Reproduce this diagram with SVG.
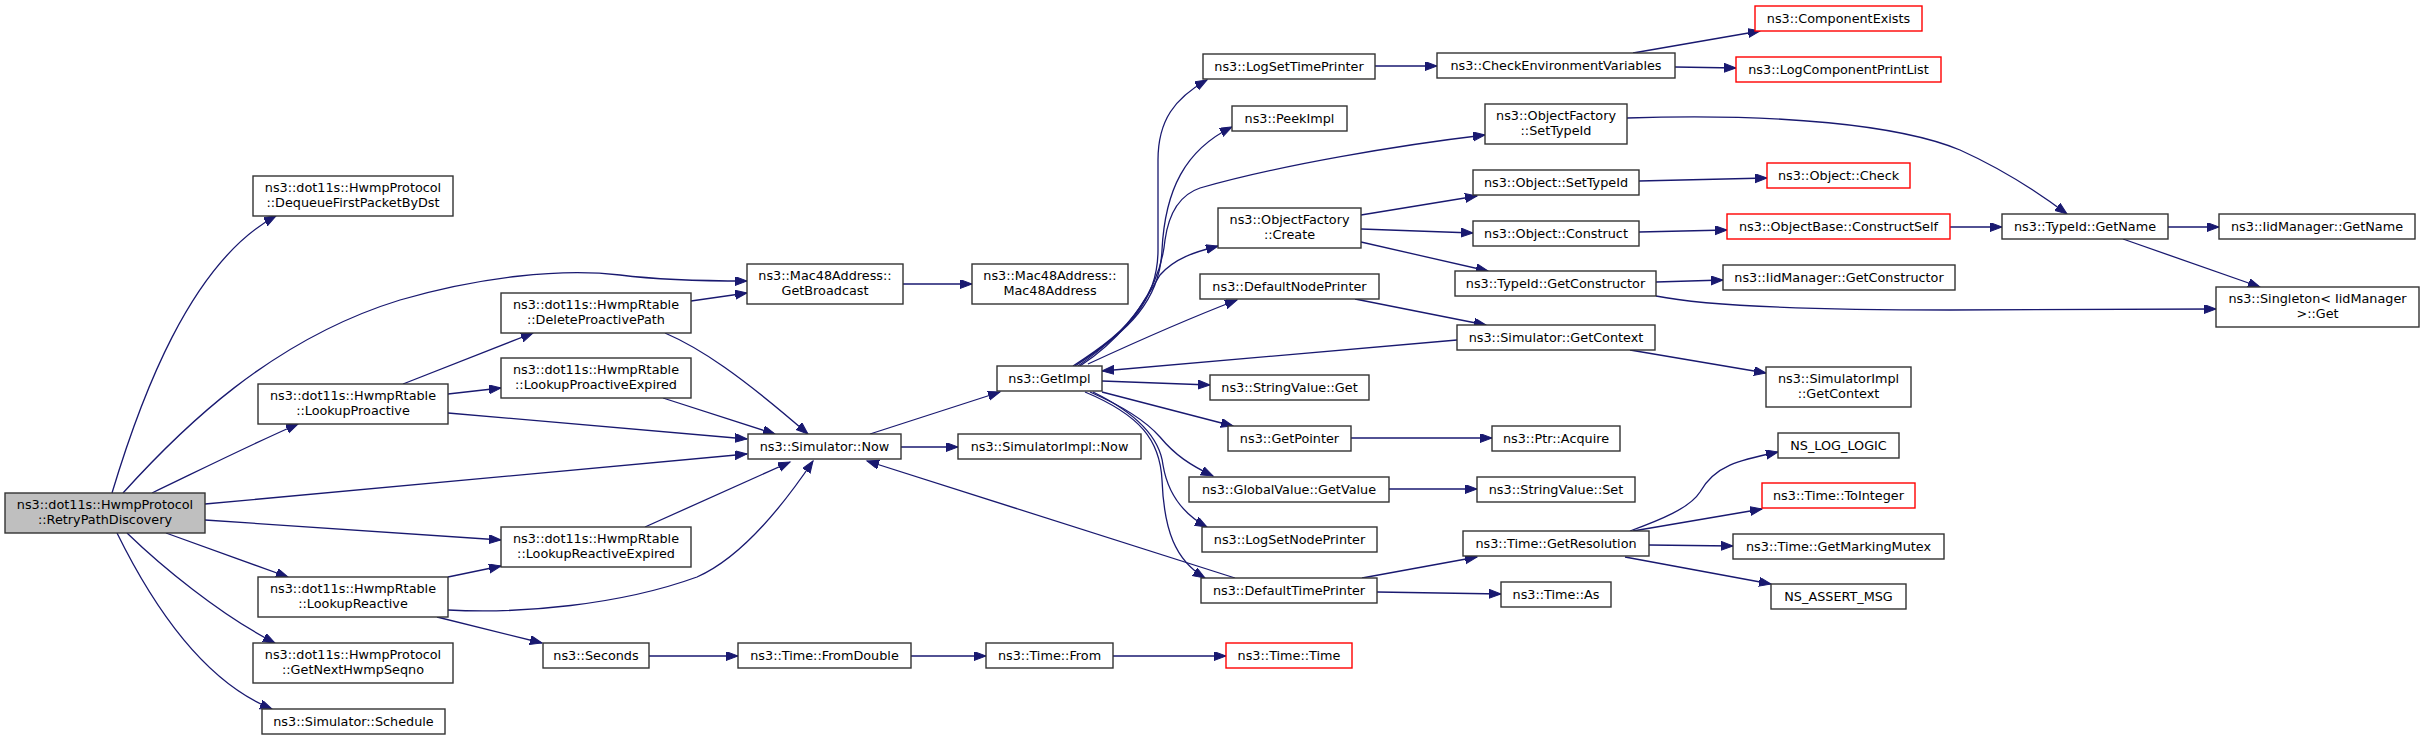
<svg xmlns="http://www.w3.org/2000/svg" width="2424" height="740" viewBox="0 0 2424 740">
<style>
rect{fill:#fff;stroke:#333;stroke-width:1.4}
rect.red{stroke:#ff0000}
rect.main{fill:#bfbfbf}
text{font-family:"DejaVu Sans","Liberation Sans",sans-serif;font-size:12.8px;fill:#000;text-anchor:middle}
#edges path{fill:none;stroke:#191970;stroke-width:1.3;marker-end:url(#a)}
</style>
<defs>
<marker id="a" markerWidth="14" markerHeight="11" refX="12" refY="4.5" orient="auto" markerUnits="userSpaceOnUse"><path d="M0,0 L12,4.5 L0,9 z" fill="#191970" stroke="#191970" stroke-width="1"/></marker>
</defs>
<rect x="0" y="0" width="2424" height="740" style="fill:#fff;stroke:none"/>
<g id="edges">
<path d="M112,493 C140,400 190,262 276,216"/>
<path d="M123,493 C180,430 270,340 400,300 C480,277 560,268 620,275 C660,280 700,281 747,281"/>
<path d="M152,493 C200,470 250,445 298,424"/>
<path d="M205,504 L747,454"/>
<path d="M205,520 L501,540"/>
<path d="M166,533 L288,577"/>
<path d="M127,533 C160,565 220,615 275,643"/>
<path d="M117,533 C150,600 200,680 272,709"/>
<path d="M403,384 L533,333"/>
<path d="M448,394 L501,388"/>
<path d="M448,413 L747,439"/>
<path d="M448,577 L501,566"/>
<path d="M448,610 C520,614 620,605 697,577 C740,558 780,510 813,461"/>
<path d="M437,617 L542,643"/>
<path d="M691,301 L747,293"/>
<path d="M665,333 C700,348 740,375 808,434"/>
<path d="M663,398 L775,434"/>
<path d="M645,527 L790,462"/>
<path d="M1235,578 L867,461"/>
<path d="M870,434 L1000,392"/>
<path d="M901,447 L958,447"/>
<path d="M903,284 L972,284"/>
<path d="M649,656 L738,656"/>
<path d="M911,656 L986,656"/>
<path d="M1113,656 L1226,656"/>
<path d="M1073,366 C1130,330 1158,300 1158,250 L1158,160 C1158,120 1175,98 1207,80"/>
<path d="M1075,366 C1130,330 1160,300 1162,250 C1165,190 1185,150 1232,127"/>
<path d="M1078,366 C1130,330 1160,290 1165,240 C1170,205 1185,193 1200,188 C1280,165 1400,145 1485,135"/>
<path d="M1080,366 C1120,340 1140,310 1160,275 C1175,258 1195,252 1218,246"/>
<path d="M1088,364 C1140,340 1190,318 1237,300"/>
<path d="M1457,340 L1102,371"/>
<path d="M1102,381 L1210,385"/>
<path d="M1102,392 L1233,426"/>
<path d="M1090,392 C1120,405 1145,420 1160,437 C1175,455 1190,465 1213,476"/>
<path d="M1093,392 C1140,415 1160,440 1163,465 C1168,495 1185,515 1207,527"/>
<path d="M1085,392 C1140,415 1160,440 1162,480 C1164,530 1175,560 1205,578"/>
<path d="M1375,66 L1437,66"/>
<path d="M1633,53 L1760,31"/>
<path d="M1675,67 L1736,68"/>
<path d="M1627,118 C1780,113 1900,125 1960,150 C2000,168 2035,190 2067,214"/>
<path d="M1361,215 L1477,196"/>
<path d="M1361,229 L1473,233"/>
<path d="M1361,242 L1488,271"/>
<path d="M1639,181 L1767,178"/>
<path d="M1639,232 L1727,230"/>
<path d="M1950,227 L2002,227"/>
<path d="M1656,282 L1723,280"/>
<path d="M1656,296 C1700,305 1800,310 1950,310 L2216,309"/>
<path d="M2168,227 L2219,227"/>
<path d="M2123,239 L2260,287"/>
<path d="M1355,299 L1486,325"/>
<path d="M1630,350 L1766,373"/>
<path d="M1351,438 L1492,438"/>
<path d="M1389,489 L1477,489"/>
<path d="M1362,578 L1477,557"/>
<path d="M1377,592 L1501,594"/>
<path d="M1630,531 C1660,520 1690,508 1700,492 C1715,465 1740,460 1778,452"/>
<path d="M1633,531 L1762,509"/>
<path d="M1649,545 L1733,546"/>
<path d="M1625,557 L1771,584"/>
</g>
<g id="n_retry"><rect class="main" x="5" y="493" width="200" height="40"/><text x="105" y="509">ns3::dot11s::HwmpProtocol</text><text x="105" y="524">::RetryPathDiscovery</text></g>
<g id="n_dequeue"><rect x="253" y="176" width="200" height="40"/><text x="353" y="192">ns3::dot11s::HwmpProtocol</text><text x="353" y="207">::DequeueFirstPacketByDst</text></g>
<g id="n_lookupproactive"><rect x="258" y="384" width="190" height="40"/><text x="353" y="400">ns3::dot11s::HwmpRtable</text><text x="353" y="415">::LookupProactive</text></g>
<g id="n_lookupreactive"><rect x="258" y="577" width="190" height="40"/><text x="353" y="593">ns3::dot11s::HwmpRtable</text><text x="353" y="608">::LookupReactive</text></g>
<g id="n_getnextseqno"><rect x="253" y="643" width="200" height="40"/><text x="353" y="659">ns3::dot11s::HwmpProtocol</text><text x="353" y="674">::GetNextHwmpSeqno</text></g>
<g id="n_schedule"><rect x="262" y="709" width="183" height="25"/><text x="353.5" y="726">ns3::Simulator::Schedule</text></g>
<g id="n_deleteproactive"><rect x="501" y="293" width="190" height="40"/><text x="596" y="309">ns3::dot11s::HwmpRtable</text><text x="596" y="324">::DeleteProactivePath</text></g>
<g id="n_lookupproactiveexpired"><rect x="501" y="358" width="190" height="40"/><text x="596" y="374">ns3::dot11s::HwmpRtable</text><text x="596" y="389">::LookupProactiveExpired</text></g>
<g id="n_lookupreactiveexpired"><rect x="501" y="527" width="190" height="40"/><text x="596" y="543">ns3::dot11s::HwmpRtable</text><text x="596" y="558">::LookupReactiveExpired</text></g>
<g id="n_seconds"><rect x="543" y="643" width="106" height="25"/><text x="596" y="660">ns3::Seconds</text></g>
<g id="n_getbroadcast"><rect x="747" y="264" width="156" height="40"/><text x="825" y="280">ns3::Mac48Address::</text><text x="825" y="295">GetBroadcast</text></g>
<g id="n_now"><rect x="748" y="434" width="153" height="25"/><text x="824.5" y="451">ns3::Simulator::Now</text></g>
<g id="n_fromdouble"><rect x="738" y="643" width="173" height="25"/><text x="824.5" y="660">ns3::Time::FromDouble</text></g>
<g id="n_mac48"><rect x="972" y="264" width="156" height="40"/><text x="1050" y="280">ns3::Mac48Address::</text><text x="1050" y="295">Mac48Address</text></g>
<g id="n_getimpl"><rect x="997" y="366" width="105" height="25"/><text x="1049.5" y="383">ns3::GetImpl</text></g>
<g id="n_simimplnow"><rect x="958" y="434" width="183" height="25"/><text x="1049.5" y="451">ns3::SimulatorImpl::Now</text></g>
<g id="n_timefrom"><rect x="986" y="643" width="127" height="25"/><text x="1049.5" y="660">ns3::Time::From</text></g>
<g id="n_logsettimeprinter"><rect x="1203" y="54" width="172" height="25"/><text x="1289" y="71">ns3::LogSetTimePrinter</text></g>
<g id="n_peekimpl"><rect x="1232" y="106" width="115" height="25"/><text x="1289.5" y="123">ns3::PeekImpl</text></g>
<g id="n_ofcreate"><rect x="1218" y="208" width="143" height="40"/><text x="1289.5" y="224">ns3::ObjectFactory</text><text x="1289.5" y="239">::Create</text></g>
<g id="n_defaultnodeprinter"><rect x="1200" y="274" width="179" height="25"/><text x="1289.5" y="291">ns3::DefaultNodePrinter</text></g>
<g id="n_stringvalueget"><rect x="1210" y="375" width="159" height="25"/><text x="1289.5" y="392">ns3::StringValue::Get</text></g>
<g id="n_getpointer"><rect x="1228" y="426" width="123" height="25"/><text x="1289.5" y="443">ns3::GetPointer</text></g>
<g id="n_globalvalue"><rect x="1189" y="477" width="200" height="25"/><text x="1289" y="494">ns3::GlobalValue::GetValue</text></g>
<g id="n_logsetnodeprinter"><rect x="1202" y="527" width="175" height="25"/><text x="1289.5" y="544">ns3::LogSetNodePrinter</text></g>
<g id="n_defaulttimeprinter"><rect x="1201" y="578" width="176" height="25"/><text x="1289" y="595">ns3::DefaultTimePrinter</text></g>
<g id="n_timetime"><rect class="red" x="1226" y="643" width="126" height="25"/><text x="1289" y="660">ns3::Time::Time</text></g>
<g id="n_checkenv"><rect x="1437" y="53" width="238" height="25"/><text x="1556" y="70">ns3::CheckEnvironmentVariables</text></g>
<g id="n_ofsettypeid"><rect x="1485" y="104" width="142" height="40"/><text x="1556" y="120">ns3::ObjectFactory</text><text x="1556" y="135">::SetTypeId</text></g>
<g id="n_objsettypeid"><rect x="1473" y="170" width="166" height="25"/><text x="1556" y="187">ns3::Object::SetTypeId</text></g>
<g id="n_objconstruct"><rect x="1473" y="221" width="166" height="25"/><text x="1556" y="238">ns3::Object::Construct</text></g>
<g id="n_getconstructor"><rect x="1455" y="271" width="201" height="25"/><text x="1555.5" y="288">ns3::TypeId::GetConstructor</text></g>
<g id="n_simgetcontext"><rect x="1457" y="325" width="198" height="25"/><text x="1556" y="342">ns3::Simulator::GetContext</text></g>
<g id="n_ptracquire"><rect x="1492" y="426" width="128" height="25"/><text x="1556" y="443">ns3::Ptr::Acquire</text></g>
<g id="n_stringvalueset"><rect x="1477" y="477" width="158" height="25"/><text x="1556" y="494">ns3::StringValue::Set</text></g>
<g id="n_getresolution"><rect x="1463" y="531" width="186" height="25"/><text x="1556" y="548">ns3::Time::GetResolution</text></g>
<g id="n_timeas"><rect x="1501" y="582" width="110" height="25"/><text x="1556" y="599">ns3::Time::As</text></g>
<g id="n_componentexists"><rect class="red" x="1755" y="6" width="167" height="25"/><text x="1838.5" y="23">ns3::ComponentExists</text></g>
<g id="n_logcomponentprintlist"><rect class="red" x="1736" y="57" width="205" height="25"/><text x="1838.5" y="74">ns3::LogComponentPrintList</text></g>
<g id="n_objcheck"><rect class="red" x="1767" y="163" width="143" height="25"/><text x="1838.5" y="180">ns3::Object::Check</text></g>
<g id="n_constructself"><rect class="red" x="1727" y="214" width="223" height="25"/><text x="1838.5" y="231">ns3::ObjectBase::ConstructSelf</text></g>
<g id="n_iidgetconstructor"><rect x="1723" y="265" width="232" height="25"/><text x="1839" y="282">ns3::IidManager::GetConstructor</text></g>
<g id="n_simimplgetcontext"><rect x="1766" y="367" width="145" height="40"/><text x="1838.5" y="383">ns3::SimulatorImpl</text><text x="1838.5" y="398">::GetContext</text></g>
<g id="n_nsloglogic"><rect x="1778" y="433" width="121" height="25"/><text x="1838.5" y="450">NS_LOG_LOGIC</text></g>
<g id="n_tointeger"><rect class="red" x="1762" y="483" width="153" height="25"/><text x="1838.5" y="500">ns3::Time::ToInteger</text></g>
<g id="n_getmarkingmutex"><rect x="1733" y="534" width="211" height="25"/><text x="1838.5" y="551">ns3::Time::GetMarkingMutex</text></g>
<g id="n_nsassertmsg"><rect x="1771" y="584" width="135" height="25"/><text x="1838.5" y="601">NS_ASSERT_MSG</text></g>
<g id="n_typeidgetname"><rect x="2002" y="214" width="166" height="25"/><text x="2085" y="231">ns3::TypeId::GetName</text></g>
<g id="n_iidgetname"><rect x="2219" y="214" width="196" height="25"/><text x="2317" y="231">ns3::IidManager::GetName</text></g>
<g id="n_singleton"><rect x="2216" y="287" width="203" height="40"/><text x="2317.5" y="303">ns3::Singleton&lt; IidManager</text><text x="2317.5" y="318">&gt;::Get</text></g>
</svg>
